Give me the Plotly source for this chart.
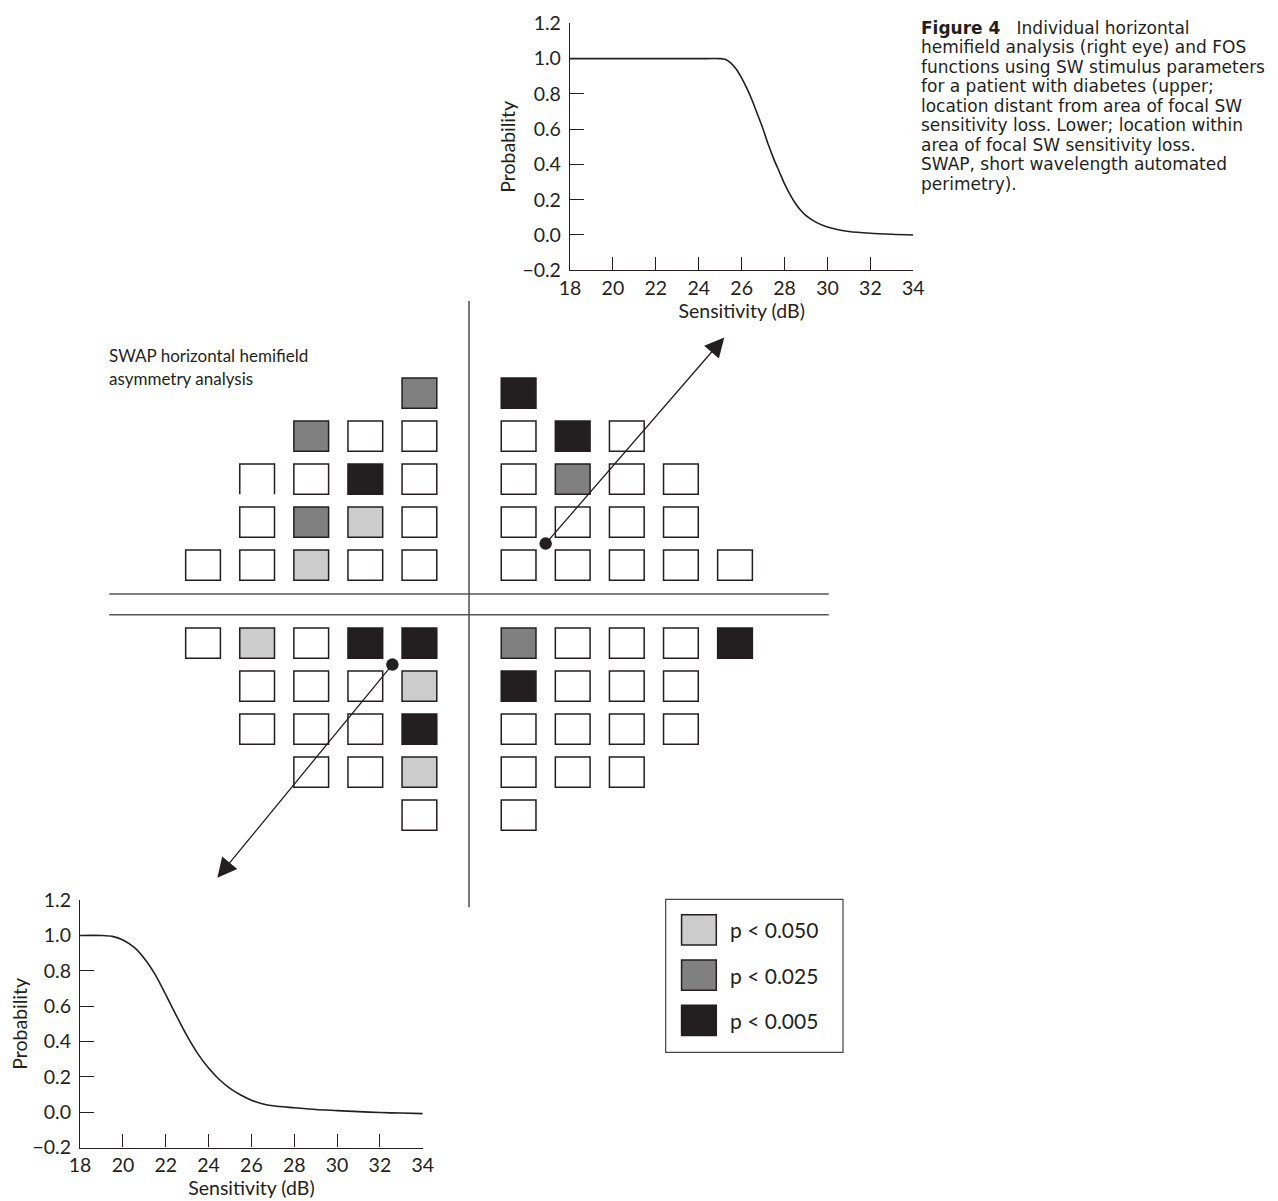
import plotly.graph_objects as go

W, H = 1278, 1201
INK = "#231f20"
FONT = "Lato"
CAP_FONT = "DejaVu Sans"

# ---------------- data ----------------
# Frequency-of-seeing function, upper location (distant from focal loss)
sens_top = [18, 20, 22, 24, 25, 25.25, 25.5, 25.75, 26, 26.25, 26.5, 26.75, 27, 27.25,
            27.5, 27.75, 28, 28.25, 28.5, 28.75, 29, 29.5, 30, 30.5, 31, 32, 33, 34]
prob_top = [1, 1, 1, 1, 1, 0.995, 0.975, 0.94, 0.89, 0.83, 0.76, 0.68, 0.60, 0.51,
            0.43, 0.36, 0.29, 0.23, 0.18, 0.14, 0.11, 0.07, 0.045, 0.03, 0.02, 0.01, 0.004, 0.0]

# Frequency-of-seeing function, lower location (within focal loss)
sens_bot = [18, 19, 19.5, 20, 20.5, 21, 21.5, 22, 22.5, 23, 23.5, 24, 24.5, 25, 25.5,
            26, 26.5, 27, 28, 29, 30, 31, 32, 33, 34]
prob_bot = [1, 1, 0.995, 0.975, 0.935, 0.87, 0.78, 0.665, 0.545, 0.43, 0.33, 0.25, 0.185,
            0.135, 0.097, 0.068, 0.048, 0.036, 0.025, 0.015, 0.009, 0.003, -0.002, -0.005, -0.008]

x_ticks = [18, 20, 22, 24, 26, 28, 30, 32, 34]
y_ticks = [-0.2, 0.0, 0.2, 0.4, 0.6, 0.8, 1.0, 1.2]
x_title = "Sensitivity (dB)"
y_title = "Probability"

# significance levels: 0 = not significant, 1..3 = legend entries
sig_labels = ["p < 0.050", "p < 0.025", "p < 0.005"]
level_colors = ["#ffffff", "#cccccc", "#808080", "#231f20"]

# hemifield grids: columns L5 L4 L3 L2 L1 | R1 R2 R3 R4 R5 ; None = no test location
upper_field = [
    [None, None, None, None, 2, 3, None, None, None, None],
    [None, None, 2, 0, 0, 0, 3, 0, None, None],
    [None, 0, 0, 3, 0, 0, 2, 0, 0, None],
    [None, 0, 2, 1, 0, 0, 0, 0, 0, None],
    [0, 0, 1, 0, 0, 0, 0, 0, 0, 0],
]
lower_field = [
    [0, 1, 0, 3, 3, 2, 0, 0, 0, 3],
    [None, 0, 0, 0, 1, 3, 0, 0, 0, None],
    [None, 0, 0, 0, 3, 0, 0, 0, 0, None],
    [None, None, 0, 0, 1, 0, 0, 0, None, None],
    [None, None, None, None, 0, 0, None, None, None, None],
]
# square drawn without its lower edge in the original
open_cells = [("upper", 2, 1)]

# FOS locations (fractional column index, fractional row index, hemifield)
dot_cols = [5.5, 3.5]
dot_rows = [3.5, 0.5]
dot_fields = ["upper", "lower"]

caption_lines = [
    "<b>Figure 4</b>\u00a0\u00a0 Individual horizontal",
    "hemifield analysis (right eye) and FOS",
    "functions using SW stimulus parameters",
    "for a patient with diabetes (upper;",
    "location distant from area of focal SW",
    "sensitivity loss. Lower; location within",
    "area of focal SW sensitivity loss.",
    "SWAP, short wavelength automated",
    "perimetry).",
]
panel_title_lines = ["SWAP horizontal hemifield", "asymmetry analysis"]

# ---------------- layout helpers ----------------
# the photographed page shows the figure slightly inset; positions below are given
# in photo pixels and converted to paper fractions.
S, OX, OY = 0.981, 18.0, 19.0


def pxx(t):
    return (t - OX) / (S * W)


def pxy(t):
    return 1 - (t - OY) / (S * H)


# grid axis: 1 unit = one column step (54 px) / one row step (43 px)
X0, UX = 467.2, 54.0
Y0, UY = 603.2, 43.0
OFFX, OFFY = 0.9167, 0.907
HALF_W, HALF_H = 0.321, 0.352


def col_x(j):
    return -(4 - j) - OFFX if j <= 4.5 else (j - 5) + OFFX


def row_y(i, field):
    return (4 - i) + OFFY if field == "upper" else -(i + OFFY)


def gx(t):
    return (t - X0) / UX


def gy(t):
    return (Y0 - t) / UY


fig = go.Figure()

line_style = dict(color=INK, width=1.6, shape="spline", smoothing=0.8)
fig.add_trace(go.Scatter(x=sens_top, y=prob_top, mode="lines", line=line_style,
                         xaxis="x", yaxis="y", showlegend=False, hoverinfo="skip"))
fig.add_trace(go.Scatter(x=sens_bot, y=prob_bot, mode="lines", line=line_style,
                         xaxis="x2", yaxis="y2", showlegend=False, hoverinfo="skip"))

shapes = []
# hemifield dividers
shapes.append(dict(type="line", xref="x3", yref="y3", x0=0, x1=0, y0=-7.05, y1=7.05,
                   line=dict(color="#333333", width=1.3), layer="above"))
for yy in (0.235, -0.245):
    shapes.append(dict(type="line", xref="x3", yref="y3", x0=-6.65, x1=6.65, y0=yy, y1=yy,
                       line=dict(color="#555555", width=1.5), layer="above"))

for field_name, field in (("upper", upper_field), ("lower", lower_field)):
    for i, row in enumerate(field):
        for j, lev in enumerate(row):
            if lev is None:
                continue
            cx, cy = col_x(j), row_y(i, field_name)
            x0, x1 = cx - HALF_W, cx + HALF_W
            y0, y1 = cy - HALF_H, cy + HALF_H
            if (field_name, i, j) in open_cells:
                shapes.append(dict(type="path", xref="x3", yref="y3",
                                   path=f"M{x0},{y0} L{x0},{y1} L{x1},{y1} L{x1},{y0}",
                                   line=dict(color=INK, width=1.5), layer="above"))
            else:
                shapes.append(dict(type="rect", xref="x3", yref="y3", x0=x0, x1=x1, y0=y0, y1=y1,
                                   fillcolor=level_colors[lev], line=dict(color=INK, width=1.5),
                                   layer="above"))

# legend box
shapes.append(dict(type="rect", xref="x3", yref="y3", x0=gx(663.5), x1=gx(840.5),
                   y0=gy(1051.5), y1=gy(898.5), line=dict(color="#444444", width=1.2),
                   fillcolor="rgba(0,0,0,0)", layer="above"))
annotations = []
for k, lab in enumerate(sig_labels):
    cy = gy(929) - k * 1.054
    cx = gx(696.7)
    shapes.append(dict(type="rect", xref="x3", yref="y3", x0=cx - HALF_W, x1=cx + HALF_W,
                       y0=cy - HALF_H, y1=cy + HALF_H, fillcolor=level_colors[k + 1],
                       line=dict(color=INK, width=1.5), layer="above"))
    annotations.append(dict(xref="x3", yref="y3", x=gx(726), y=cy, text=lab, showarrow=False,
                            xanchor="left", yanchor="middle",
                            font=dict(family=FONT, size=21, color=INK)))

# FOS location dots
dx = [col_x(c) for c in dot_cols]
dy = [row_y(r, f) for r, f in zip(dot_rows, dot_fields)]
fig.add_trace(go.Scatter(x=dx, y=dy, mode="markers", xaxis="x3", yaxis="y3",
                         marker=dict(size=12.5, color=INK), showlegend=False, hoverinfo="skip"))

# arrows from the dots toward the FOS panels
tips = [(gx(722), gy(336.5)), (gx(216), gy(877))]
for (tx, ty), sx, sy in zip(tips, dx, dy):
    annotations.append(dict(xref="x3", yref="y3", axref="x3", ayref="y3", x=tx, y=ty,
                            ax=sx, ay=sy, text="", showarrow=True, arrowhead=2,
                            arrowsize=3, arrowwidth=1.3, arrowcolor=INK, standoff=0,
                            startstandoff=0))

# panel title
for k, t in enumerate(panel_title_lines):
    annotations.append(dict(xref="paper", yref="paper", x=pxx(106), y=pxy(355 + 23 * k),
                            text=t, showarrow=False, xanchor="left", yanchor="middle",
                            font=dict(family=FONT, size=17, color=INK)))

# caption, one text per line (tight leading as in the original)
for k, t in enumerate(caption_lines):
    annotations.append(dict(xref="paper", yref="paper", x=pxx(916), y=pxy(27 + 19.5 * k),
                            text=t, showarrow=False, xanchor="left", yanchor="middle",
                            font=dict(family=CAP_FONT, size=17, color=INK)))

axis_common = dict(showline=True, linecolor=INK, linewidth=1.3, ticks="inside", tickcolor=INK,
                   tickwidth=1.3, showgrid=False, zeroline=False, fixedrange=True,
                   tickfont=dict(family=FONT, size=19.5, color=INK))

xa = dict(axis_common, range=[18, 34], tickvals=x_ticks, ticklen=13, ticklabelstandoff=0,
          title=dict(text=x_title, font=dict(family=FONT, size=19.5, color=INK), standoff=4))
ya = dict(axis_common, range=[-0.2, 1.2], tickvals=y_ticks, tickformat=".1f", ticklen=14,
          ticklabelstandoff=4,
          title=dict(text=y_title, font=dict(family=FONT, size=19.5, color=INK), standoff=1))

fig.update_layout(
    width=W, height=H, margin=dict(l=0, r=0, t=0, b=0),
    paper_bgcolor="white", plot_bgcolor="rgba(0,0,0,0)",
    showlegend=False,
    xaxis=dict(xa, domain=[pxx(568), pxx(910.7)], anchor="y"),
    yaxis=dict(ya, domain=[pxy(269.3), pxy(22.4)], anchor="x"),
    xaxis2=dict(xa, domain=[pxx(79), pxx(421)], anchor="y2"),
    yaxis2=dict(ya, domain=[pxy(1146.7), pxy(899.3)], anchor="x2"),
    xaxis3=dict(domain=[0, 1], range=[gx(OX), gx(OX + S * W)], visible=False,
                fixedrange=True, anchor="y3"),
    yaxis3=dict(domain=[0, 1], range=[gy(OY + S * H), gy(OY)], visible=False,
                fixedrange=True, anchor="x3"),
    shapes=shapes,
    annotations=annotations,
)

fig.write_html("out.html")
